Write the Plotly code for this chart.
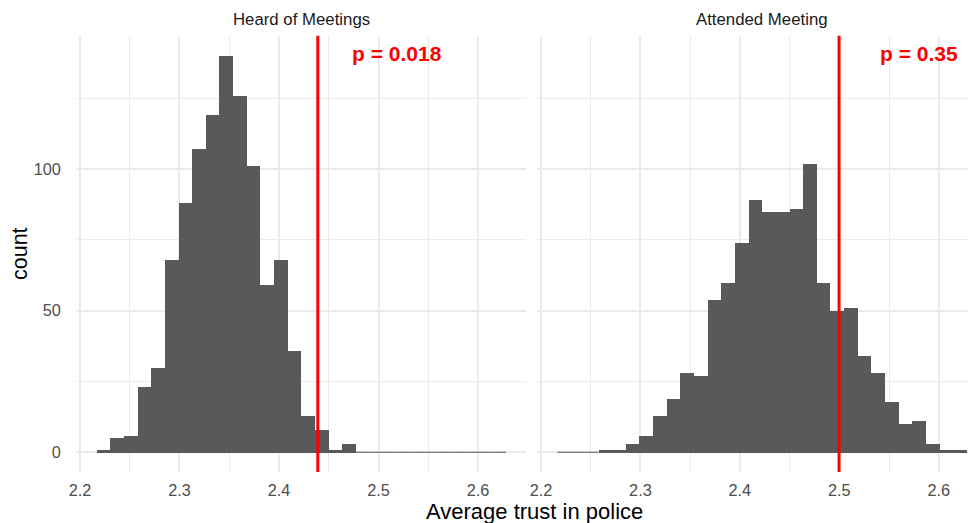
import plotly.graph_objects as go

# ---- data ----
panels = ["Heard of Meetings", "Attended Meeting"]
bin_start = 2.2165
bin_width = 0.01372
heard_counts = [1, 5, 6, 23, 30, 68, 88, 107, 119, 140, 126, 101, 59, 68, 36,
                13, 8, 1, 3, 0, 0, 0, 0, 0, 0, 0, 0, 0, 0, 0]
attended_counts = [0, 0, 0, 1, 1, 3, 6, 13, 19, 28, 27, 54, 60, 74, 89,
                   85, 85, 86, 102, 60, 50, 51, 34, 28, 18, 10, 11, 3, 1, 1]
observed = [2.439, 2.4998]
p_labels = ["p = 0.018", "p = 0.35"]
x_ticks = [2.2, 2.3, 2.4, 2.5, 2.6]
y_ticks = [0, 50, 100]

# the page body adds an 8px offset; the figure is sized to fill the window
OFF = 8
W, H = 976 - OFF, 523 - OFF
FONT = "Liberation Sans, Arial, sans-serif"
BAR = "#595959"
GRID = "#EBEBEB"


def px(v):
    return v - OFF


# pixel geometry of the panels (in window pixels)
px_l = [75.8, 536.8]
px_r = [526.4, 976.0]
py_top, py_bot = 35.7, 472.1
x_ranges = [[2.1958, 2.6486], [2.1958, 2.6375]]
y_range = [-7, 147]

fig = go.Figure()
all_counts = [heard_counts, attended_counts]
n = len(heard_counts)
centers = [bin_start + bin_width * (i + 0.5) for i in range(n)]

for k, counts in enumerate(all_counts):
    xa = "x" if k == 0 else "x2"
    ya = "y" if k == 0 else "y2"
    fig.add_trace(go.Bar(x=centers, y=counts, width=bin_width,
                         marker=dict(color=BAR, line=dict(width=0)),
                         xaxis=xa, yaxis=ya, showlegend=False,
                         hoverinfo="x+y"))
    # zero-height bins render as a thin baseline in the original
    zx, zy = [], []
    for i, c in enumerate(counts):
        if c == 0:
            zx += [bin_start + bin_width * i, bin_start + bin_width * (i + 1), None]
            zy += [0, 0, None]
    fig.add_trace(go.Scatter(x=zx, y=zy, mode="lines",
                             line=dict(color=BAR, width=1),
                             xaxis=xa, yaxis=ya, showlegend=False,
                             hoverinfo="skip"))

ydom = [(H - px(py_bot)) / H, (H - px(py_top)) / H]


def xaxis_cfg(k):
    return dict(domain=[px(px_l[k]) / W, min(1.0, px(px_r[k]) / W)],
                range=x_ranges[k],
                tickmode="array", tickvals=x_ticks,
                ticktext=[f"{v:.1f}" for v in x_ticks],
                showgrid=True, gridcolor=GRID, gridwidth=1.6,
                minor=dict(dtick=0.05, tick0=2.2, showgrid=True,
                           gridcolor=GRID, gridwidth=1.0),
                zeroline=False, showline=False, ticks="",
                automargin=False, ticklabelstandoff=7,
                tickfont=dict(family=FONT, size=16.3, color="#4D4D4D"),
                anchor="y" if k == 0 else "y2", fixedrange=True)


def yaxis_cfg(k):
    return dict(domain=ydom, range=y_range, tickmode="array",
                tickvals=y_ticks, ticktext=[str(v) for v in y_ticks],
                showticklabels=(k == 0),
                showgrid=True, gridcolor=GRID, gridwidth=1.6,
                minor=dict(dtick=25, tick0=0, showgrid=True,
                           gridcolor=GRID, gridwidth=1.0),
                zeroline=False, showline=False, ticks="",
                automargin=False, ticklabelstandoff=14,
                tickfont=dict(family=FONT, size=16.3, color="#4D4D4D"),
                anchor="x" if k == 0 else "x2", fixedrange=True)


shapes = []
annotations = []
for k in range(2):
    xa = "x" if k == 0 else "x2"
    ya = "y" if k == 0 else "y2"
    shapes.append(dict(type="line", xref=xa, yref=ya + " domain",
                       x0=observed[k], x1=observed[k], y0=0, y1=1,
                       line=dict(color="#FF0000", width=3), layer="above"))
    annotations.append(dict(x=observed[k] + 0.08, y=140.8, xref=xa, yref=ya,
                            text=f"<b>{p_labels[k]}</b>", showarrow=False,
                            xanchor="center", yanchor="middle",
                            font=dict(family=FONT, size=21, color="#FF0000")))
    # strip titles (right panel extends past the window in the original)
    cx = (px_l[k] + (px_r[k] if k == 0 else 987.0)) / 2
    annotations.append(dict(x=px(cx) / W, y=(H - px(19.5)) / H,
                            xref="paper", yref="paper",
                            text=panels[k], showarrow=False,
                            xanchor="center", yanchor="middle",
                            font=dict(family=FONT, size=16.8, color="#1A1A1A")))

annotations.append(dict(x=px(534) / W, y=(H - px(511)) / H,
                        xref="paper", yref="paper",
                        text="Average trust in police", showarrow=False,
                        xanchor="center", yanchor="middle",
                        font=dict(family=FONT, size=22, color="black")))
annotations.append(dict(x=px(20) / W, y=(H - px(254)) / H,
                        xref="paper", yref="paper",
                        text="count", showarrow=False, textangle=-90,
                        xanchor="center", yanchor="middle",
                        font=dict(family=FONT, size=21.5, color="black")))

fig.update_layout(
    width=W, height=H,
    margin=dict(l=0, r=0, t=0, b=0, autoexpand=False),
    paper_bgcolor="white", plot_bgcolor="white",
    bargap=0, barmode="overlay",
    xaxis=xaxis_cfg(0), xaxis2=xaxis_cfg(1),
    yaxis=yaxis_cfg(0), yaxis2=yaxis_cfg(1),
    shapes=shapes, annotations=annotations,
    font=dict(family=FONT),
)

fig.write_html("out.html")
